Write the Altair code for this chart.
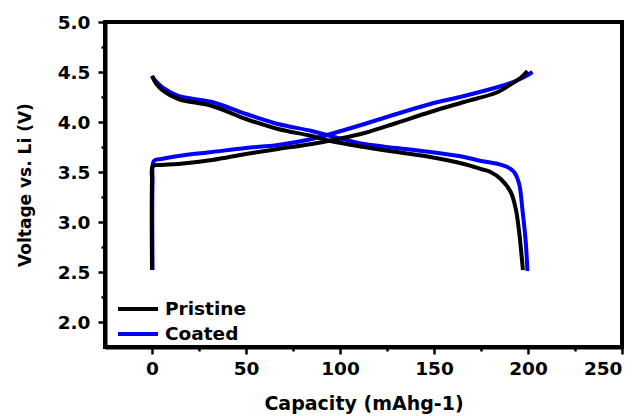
import altair as alt
import pandas as pd

# ---- data ----
pristine_charge_x = [0, 0, 0.5, 5, 14, 32, 50, 67, 85, 99, 113, 130, 148, 166, 184, 191, 196, 199.7]
pristine_charge_y = [2.52, 3.40, 3.56, 3.57, 3.58, 3.62, 3.68, 3.73, 3.78, 3.83, 3.89, 3.99, 4.10, 4.20, 4.30, 4.38, 4.44, 4.51]

pristine_dis_x = [0, 2, 6, 14, 32, 50, 67, 85, 95, 113, 130, 148, 166, 175, 180, 185.5, 190.8, 193.5, 195.3, 196.3, 197.3]
pristine_dis_y = [4.46, 4.39, 4.31, 4.23, 4.16, 4.03, 3.93, 3.86, 3.81, 3.75, 3.70, 3.65, 3.58, 3.53, 3.50, 3.43, 3.30, 3.13, 2.90, 2.72, 2.52]

coated_charge_x = [0.3, 0.3, 1, 5, 14, 32, 50, 67, 85, 95, 113, 130, 148, 166, 184, 192, 198, 202.4]
coated_charge_y = [2.52, 3.40, 3.61, 3.63, 3.66, 3.70, 3.74, 3.77, 3.83, 3.88, 3.98, 4.08, 4.18, 4.26, 4.35, 4.40, 4.45, 4.50]

coated_dis_x = [0, 2, 6, 14, 32, 50, 67, 85, 95, 113, 130, 148, 166, 175, 184, 189, 192.6, 195.3, 197, 198.8, 199.7]
coated_dis_y = [4.46, 4.41, 4.34, 4.26, 4.20, 4.08, 3.98, 3.91, 3.86, 3.78, 3.74, 3.70, 3.65, 3.61, 3.58, 3.55, 3.50, 3.38, 3.13, 2.80, 2.51]

samples = ["Pristine", "Coated"]
colors = ["#000000", "#0000ff"]

x_ticks = [0, 25, 50, 75, 100, 125, 150, 175, 200, 225, 250]
y_ticks = [2.0, 2.25, 2.5, 2.75, 3.0, 3.25, 3.5, 3.75, 4.0, 4.25, 4.5, 4.75, 5.0]


def frame(xs, ys, sample, seg):
    return pd.DataFrame({"capacity": xs, "voltage": ys, "sample": sample,
                         "segment": seg, "idx": range(len(xs))})


df_p = pd.concat([frame(pristine_charge_x, pristine_charge_y, "Pristine", "p_c"),
                  frame(pristine_dis_x, pristine_dis_y, "Pristine", "p_d")])
df_c = pd.concat([frame(coated_charge_x, coated_charge_y, "Coated", "c_c"),
                  frame(coated_dis_x, coated_dis_y, "Coated", "c_d")])

FONT = "DejaVu Sans"

x_enc = alt.X("capacity:Q",
              scale=alt.Scale(domain=[-25, 250], nice=False, zero=False),
              axis=alt.Axis(values=x_ticks, title="Capacity (mAhg-1)",
                            labelExpr="datum.value % 50 == 0 ? datum.label : ''",
                            tickSize={"condition": {"test": "datum.value % 50 != 0", "value": 4}, "value": 7},
                            labelPadding=5, titlePadding=17, grid=False,
                            titleFont=FONT, titleFontWeight="bold",
                            titleFontSize=19, labelFontSize=18.5))
y_enc = alt.Y("voltage:Q",
              scale=alt.Scale(domain=[1.75, 5.0], nice=False, zero=False),
              axis=alt.Axis(values=y_ticks, title="Voltage vs. Li (V)",
                            labelExpr="abs(datum.value*2 - round(datum.value*2)) < 0.001 ? format(datum.value, '.1f') : ''",
                            tickSize={"condition": {"test": "abs(datum.value*2 - round(datum.value*2)) > 0.001", "value": 4}, "value": 7},
                            labelPadding=8, titlePadding=23, grid=False,
                            titleFont=FONT, titleFontWeight="bold",
                            titleFontSize=17, labelFontSize=18.5))
color_enc = alt.Color("sample:N",
                      scale=alt.Scale(domain=samples, range=colors),
                      legend=alt.Legend(title=None, orient="none", legendX=21, legendY=275,
                                        symbolType="M-2,0H2", symbolSize=400,
                                        symbolStrokeWidth=4, labelFont=FONT,
                                        labelFontWeight="bold", labelFontSize=18.5,
                                        labelColor="black", labelOffset=15,
                                        rowPadding=3, padding=0))

coated = alt.Chart(df_c).mark_line(strokeWidth=4, interpolate="catmull-rom").encode(
    x=x_enc, y=y_enc, color=color_enc, detail="segment:N", order="idx:Q")
pristine = alt.Chart(df_p).mark_line(strokeWidth=4, interpolate="catmull-rom").encode(
    x=x_enc, y=y_enc, color=color_enc, detail="segment:N", order="idx:Q")

chart = alt.layer(coated, pristine).properties(
    width=517, height=325,
    padding={"left": 105, "top": 22, "right": 20, "bottom": 69},
    autosize="none",
    background="white",
).configure_view(
    stroke="black", strokeWidth=4
).configure_axis(
    domainColor="black", domainWidth=4, tickColor="black", tickWidth=2.5,
    labelFont=FONT, labelFontWeight="bold", labelColor="black",
    titleFontWeight="bold", titleColor="black",
)

chart.save("out.html", embed_options={"renderer": "svg", "actions": False})
